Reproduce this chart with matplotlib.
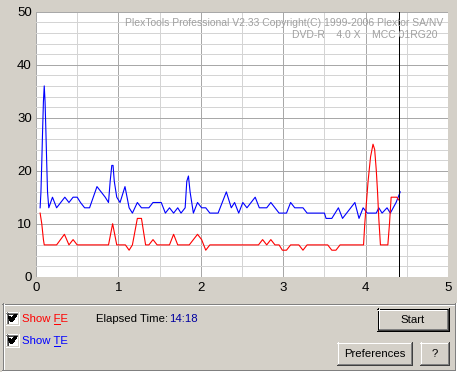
import matplotlib
matplotlib.use("Agg")
import matplotlib.pyplot as plt
from matplotlib.patches import Rectangle
from matplotlib.lines import Line2D

# ---------------- data ----------------
te_x = [0.05, 0.06, 0.07, 0.08, 0.09, 0.10, 0.11, 0.12, 0.13, 0.14, 0.155,
        0.20, 0.25, 0.30, 0.35, 0.40, 0.45, 0.50, 0.54, 0.59, 0.65, 0.74,
        0.79, 0.84, 0.88, 0.90, 0.92, 0.935, 0.95, 0.98, 1.02, 1.08, 1.13,
        1.17, 1.23, 1.28, 1.37, 1.42, 1.52, 1.57, 1.62, 1.67, 1.72, 1.76,
        1.81, 1.83, 1.85, 1.87, 1.91, 1.96, 2.01, 2.06, 2.11, 2.21, 2.26,
        2.31, 2.37, 2.41, 2.46, 2.51, 2.56, 2.61, 2.66, 2.71, 2.80, 2.85,
        2.90, 2.95, 3.04, 3.09, 3.14, 3.24, 3.29, 3.50, 3.52, 3.59, 3.67,
        3.72, 3.77, 3.87, 3.92, 3.97, 4.02, 4.13, 4.16, 4.20, 4.26, 4.30,
        4.37, 4.42]
te_y = [13, 16, 21.5, 27.5, 33, 36, 33, 27.5, 21.5, 16, 13,
        15, 13, 14, 15, 14, 15, 15, 14, 13, 13, 17,
        16, 15, 14, 18, 21, 21, 18, 15, 14, 17, 13,
        12, 14, 13, 13, 14, 14, 12, 13, 12, 13, 12,
        13, 18, 19, 16, 12, 14, 13, 13, 12, 12, 14,
        16, 13, 14, 12, 14, 13, 14, 15, 13, 13, 14,
        13, 12, 12, 14, 13, 13, 12, 12, 11, 11, 13,
        11, 12, 14, 11, 13, 12, 12, 13, 12, 13, 12,
        14, 16]

fe_x = [0.05, 0.07, 0.09, 0.10, 0.25, 0.345, 0.40, 0.45, 0.50, 0.88, 0.93,
        0.98, 1.085, 1.13, 1.17, 1.23, 1.28, 1.33, 1.37, 1.42, 1.47, 1.62,
        1.67, 1.72, 1.86, 1.96, 2.01, 2.06, 2.11, 2.70, 2.75, 2.80, 2.85,
        2.90, 2.95, 2.99, 3.04, 3.09, 3.19, 3.24, 3.29, 3.54, 3.59, 3.64,
        3.69, 3.975, 3.99, 4.01, 4.03, 4.06, 4.09, 4.11, 4.13, 4.145, 4.16,
        4.18, 4.27, 4.29, 4.31, 4.38, 4.40]
fe_y = [12, 10, 7, 6, 6, 8, 6, 7, 6, 6, 10,
        6, 6, 5, 6, 11, 11, 6, 6, 7, 6, 6,
        8, 6, 6, 8, 7, 5, 6, 6, 7, 6, 7,
        6, 6, 5, 5, 6, 6, 5, 6, 6, 5, 5,
        6, 6, 10, 14, 18, 22.6, 25, 24, 20, 16, 11,
        6, 6, 10, 15, 15, 14.5]

marker_x = 4.405
x_ticks = [0, 1, 2, 3, 4, 5]
y_ticks = [0, 10, 20, 30, 40, 50]
title1 = "PlexTools Professional V2.33 Copyright(C) 1999-2006 Plextor SA/NV"
title2 = "DVD-R    4.0 X    MCC 01RG20"
elapsed = "14:18"

# ---------------- figure ----------------
W, H = 457, 372
BG = "#d4d0c8"
PX = 0.72  # one pixel in points at 100 dpi
plt.rcParams['font.family'] = ['Liberation Sans', 'DejaVu Sans']
fig = plt.figure(figsize=(W / 100, H / 100), dpi=100, facecolor=BG)

L, R, T, B = 36, 448, 11.7, 276.7
ax = fig.add_axes([L / W, 1 - B / H, (R - L) / W, (B - T) / H])
ax.set_facecolor("white")
ax.set_xlim(0, 5)
ax.set_ylim(0, 50)
ax.set_xticks(x_ticks)
ax.set_yticks(y_ticks)
ax.set_xticks([i * 0.5 for i in range(11)], minor=True)
ax.set_yticks(list(range(0, 51, 2)), minor=True)
ax.grid(which="minor", color="#d4d4d4", lw=PX, antialiased=False)
ax.grid(which="major", color="#a8a8a8", lw=PX, antialiased=False)
ax.set_axisbelow(True)
for s in ax.spines.values():
    s.set_visible(False)
ax.tick_params(which="both", length=0)
ax.tick_params(axis="y", pad=3, labelsize=9.5)
ax.tick_params(axis="x", pad=4, labelsize=9.5)

ax.plot(te_x, te_y, color="#0000ff", lw=0.8, antialiased=True, zorder=3)
ax.plot(fe_x, fe_y, color="#ff0000", lw=0.8, antialiased=True, zorder=4)
ax.axvline(marker_x, color="black", lw=PX, antialiased=False, zorder=5)

# ---------------- overlay in pixel coords ----------------
ov = fig.add_axes([0, 0, 1, 1])
ov.set_xlim(0, W)
ov.set_ylim(H, 0)
ov.axis("off")
ov.patch.set_alpha(0)

ov.text(443, 23, title1, ha="right", va="center", color="#a0a0a0", fontsize=7.5)
ov.text(437, 35, title2, ha="right", va="center", color="#a0a0a0", fontsize=7.5)


def hline(x0, x1, y, c):
    ov.add_line(Line2D([x0, x1], [y + 0.5, y + 0.5], color=c, lw=PX,
                       antialiased=False))


def vline(x, y0, y1, c):
    ov.add_line(Line2D([x + 0.5, x + 0.5], [y0, y1], color=c, lw=PX,
                       antialiased=False))


# etched group box
px0, py0, px1, py1 = 2, 303, 454, 369
hline(px0, px1, py0, "#808080"); hline(px0 + 1, px1, py0 + 1, "white")
vline(px0, py0, py1, "#808080"); vline(px0 + 1, py0 + 1, py1, "white")
vline(px1, py0, py1 + 1, "#808080"); vline(px1 + 1, py0, py1 + 2, "white")
hline(px0, px1, py1, "#808080"); hline(px0, px1 + 1, py1 + 1, "white")


def button(x0, y0, x1, y1, label, default=False):
    ov.add_patch(Rectangle((x0, y0), x1 - x0, y1 - y0, facecolor=BG,
                           edgecolor="none"))
    cx, cy = (x0 + x1) / 2, (y0 + y1) / 2
    if default:
        hline(x0, x1 + 1, y0, "black"); hline(x0, x1 + 1, y1, "black")
        vline(x0, y0, y1 + 1, "black"); vline(x1, y0, y1 + 1, "black")
        x0 += 1; y0 += 1; x1 -= 1; y1 -= 1
    hline(x0, x1, y0, "white"); vline(x0, y0, y1, "white")
    hline(x0, x1 + 1, y1, "#404040"); vline(x1, y0, y1 + 1, "#404040")
    hline(x0 + 1, x1, y1 - 1, "#808080"); vline(x1 - 1, y0 + 1, y1, "#808080")
    ov.text(cx + 0.5, cy + 1, label, ha="center", va="center",
            fontsize=8.2, color="black")


button(377, 308, 448, 330, "Start", default=True)
button(337, 342, 411, 364, "Preferences")
button(420, 342, 448, 364, "?")


def checkbox(x0, y0):
    s = 12
    ov.add_patch(Rectangle((x0, y0), s, s, facecolor="white", edgecolor="none"))
    hline(x0, x0 + s, y0, "#808080"); vline(x0, y0, y0 + s, "#808080")
    hline(x0 + 1, x0 + s - 1, y0 + 1, "#404040"); vline(x0 + 1, y0 + 1, y0 + s - 1, "#404040")
    hline(x0, x0 + s + 1, y0 + s, "white"); vline(x0 + s, y0, y0 + s + 1, "white")
    hline(x0 + 1, x0 + s, y0 + s - 1, BG); vline(x0 + s - 1, y0 + 1, y0 + s, BG)
    ov.add_line(Line2D([x0 + 3.5, x0 + 5.5, x0 + 9.5], [y0 + 5.5, y0 + 8.5, y0 + 3.5],
                       color="black", lw=1.5 * PX * 1.4, antialiased=False))


checkbox(6, 312)
checkbox(6, 334)

fig.canvas.draw()
rend = fig.canvas.get_renderer()


def underlined(x, y, prefix, ch, rest, color):
    ov.text(x, y, prefix + ch + rest, ha="left", va="center",
            fontsize=8.2, color=color)
    tc = ov.text(x, y, prefix + ch, ha="left", va="center", fontsize=8.2, alpha=0)
    tf = ov.text(x, y, ch, ha="left", va="center", fontsize=8.2, alpha=0)
    e2 = tc.get_window_extent(rend)
    ef = tf.get_window_extent(rend)
    inv = ov.transData.inverted()
    xb = inv.transform((e2.x1, 0))[0]
    xa = xb - ef.width
    hline(xa, xb - 1, y + 5, color)


underlined(22.5, 318.5, "Show ", "F", "E", "#ff0000")
underlined(22.5, 340.5, "Show ", "T", "E", "#0000ff")
ov.text(96.5, 318.5, "Elapsed Time:", ha="left", va="center", fontsize=8.2,
        color="black")
ov.text(169.5, 318.5, elapsed, ha="left", va="center", fontsize=8.2,
        color="#0000a0")

fig.savefig("out.png", dpi=100, facecolor=BG)
